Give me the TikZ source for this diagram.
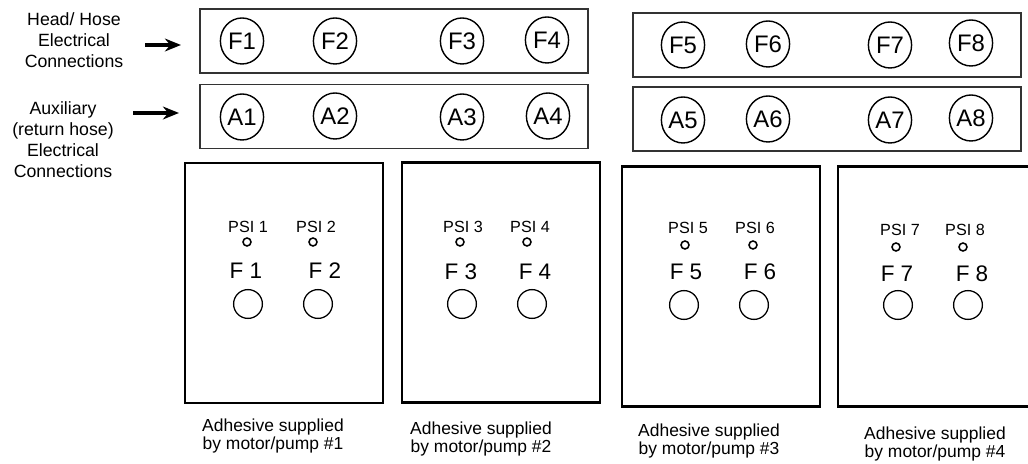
\documentclass[tikz,border=0pt]{standalone}
\usepackage{fontspec}
\setmainfont{Liberation Sans}
\usepackage{tikz}
\usetikzlibrary{shapes, arrows.meta, positioning, calc}
\tikzstyle{connbox} = [rectangle, draw=black!80, line width=0.9pt, minimum width=9.7cm, minimum height=1.6cm, inner sep=0pt]
\tikzstyle{conn} = [ellipse, draw=black, line width=1pt, minimum width=1.08cm, minimum height=1.15cm, inner sep=0pt, font=\fontsize{17}{19}\selectfont]
\tikzstyle{panel} = [rectangle, draw=black, line width=1.8pt, minimum width=4.95cm, minimum height=6cm, inner sep=0pt]
\tikzstyle{psilabel} = [inner sep=0pt, font=\fontsize{11.5}{13}\selectfont]
\tikzstyle{psiport} = [circle, draw=black, line width=1.1pt, minimum size=0.2cm, inner sep=0pt]
\tikzstyle{flabel} = [inner sep=0pt, font=\fontsize{16}{18}\selectfont]
\tikzstyle{fport} = [circle, draw=black, line width=0.9pt, minimum size=0.72cm, inner sep=0pt]
\tikzstyle{caption} = [align=center, inner sep=0pt, font=\fontsize{12.4}{13.4}\selectfont]
\tikzstyle{sidelabel} = [align=center, inner sep=0pt, font=\fontsize{12.6}{14.9}\selectfont]

\begin{document}
\begin{tikzpicture}[x=0.025cm, y=-0.025cm]
\useasboundingbox (0,0) rectangle (1028,464);
% connection strips
\node (fbox1) [connbox] at (394,41) {};
\node (abox1) [connbox] at (394,116.5) {};
\node (fbox2) [connbox] at (827,45) {};
\node (abox2) [connbox] at (827,119) {};
\node (f1) [conn] at (242,41) {F1};
\node (f2) [conn] at (335,41) {F2};
\node (f3) [conn] at (462,41) {F3};
\node (f4) [conn] at (547,40) {F4};
\node (f5) [conn] at (683,45) {F5};
\node (f6) [conn] at (768,44) {F6};
\node (f7) [conn] at (890,45) {F7};
\node (f8) [conn] at (971,43) {F8};
\node (a1) [conn] at (242,117) {A1};
\node (a2) [conn] at (335,116) {A2};
\node (a3) [conn] at (462,117) {A3};
\node (a4) [conn] at (548,116) {A4};
\node (a5) [conn] at (683,120) {A5};
\node (a6) [conn] at (768,119) {A6};
\node (a7) [conn] at (890,120) {A7};
\node (a8) [conn] at (971,118) {A8};
% side labels
\node (hoselbl) [sidelabel] at (74,40) {Head/ Hose\\Electrical\\Connections};
\node (auxlbl) [sidelabel] at (63,140) {Auxiliary\\(return hose)\\Electrical\\Connections};
\coordinate (hosetail) at (145,45);
\coordinate (hosetip) at (181,45);
\coordinate (auxtail) at (133,113);
\coordinate (auxtip) at (179,113);
\draw[line width=2.2pt, -{Stealth[length=4mm, width=3.2mm]}] (hosetail) -- (hosetip);
\draw[line width=2.2pt, -{Stealth[length=4mm, width=3.2mm]}] (auxtail) -- (auxtip);
% pump panels
\node (panel1) [panel] at (284,283) {};
\node (panel2) [panel] at (501,282.5) {};
\node (panel3) [panel] at (721,286.5) {};
\node (panel4) [panel] at (937,286.5) {};
\node (psi1) [psilabel] at (248,227) {PSI 1};
\node (psi2) [psilabel] at (316,227) {PSI 2};
\node (psi3) [psilabel] at (463,227) {PSI 3};
\node (psi4) [psilabel] at (530,227) {PSI 4};
\node (psi5) [psilabel] at (688,228) {PSI 5};
\node (psi6) [psilabel] at (755,228) {PSI 6};
\node (psi7) [psilabel] at (900,230) {PSI 7};
\node (psi8) [psilabel] at (965,230) {PSI 8};
\node (pp1) [psiport] at (247,242) {};
\node (pp2) [psiport] at (313,242) {};
\node (pp3) [psiport] at (460,242) {};
\node (pp4) [psiport] at (527,242) {};
\node (pp5) [psiport] at (685,245) {};
\node (pp6) [psiport] at (753,245) {};
\node (pp7) [psiport] at (896,247) {};
\node (pp8) [psiport] at (963,247) {};
\node (fl1) [flabel] at (246,271) {F 1};
\node (fl2) [flabel] at (325,271) {F 2};
\node (fl3) [flabel] at (461,272) {F 3};
\node (fl4) [flabel] at (535,272) {F 4};
\node (fl5) [flabel] at (686,272) {F 5};
\node (fl6) [flabel] at (760,272) {F 6};
\node (fl7) [flabel] at (897,274) {F 7};
\node (fl8) [flabel] at (972,274) {F 8};
\node (fp1) [fport] at (248,304) {};
\node (fp2) [fport] at (318,304) {};
\node (fp3) [fport] at (462,304) {};
\node (fp4) [fport] at (532,304) {};
\node (fp5) [fport] at (684,305) {};
\node (fp6) [fport] at (754,305) {};
\node (fp7) [fport] at (898,305) {};
\node (fp8) [fport] at (968,305) {};
% captions
\node (cap1) [caption] at (273,436) {Adhesive supplied\\by motor/pump \#1};
\node (cap2) [caption] at (481,439) {Adhesive supplied\\by motor/pump \#2};
\node (cap3) [caption] at (709,441) {Adhesive supplied\\by motor/pump \#3};
\node (cap4) [caption] at (935,444) {Adhesive supplied\\by motor/pump \#4};
\end{tikzpicture}
\end{document}
